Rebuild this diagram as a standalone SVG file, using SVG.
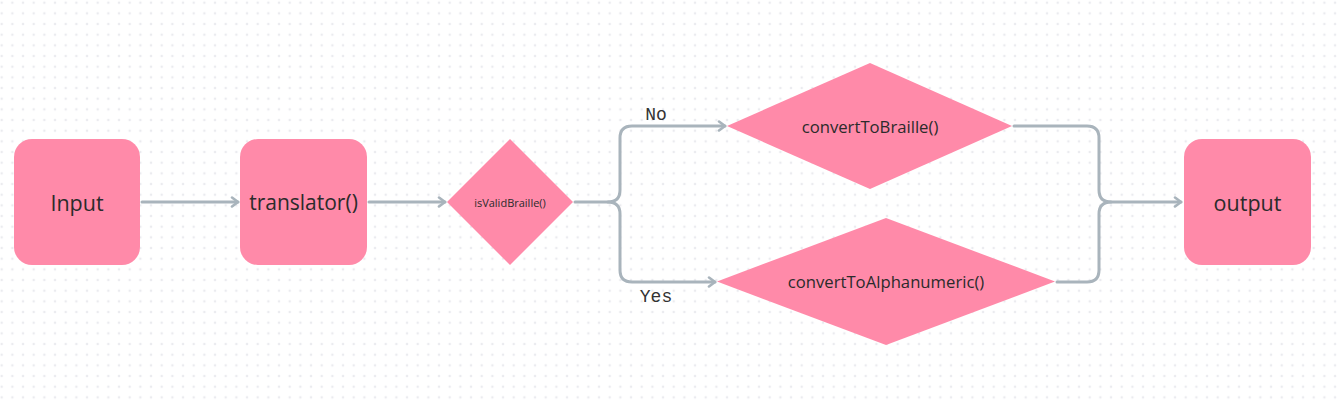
<svg xmlns="http://www.w3.org/2000/svg" width="1337" height="404" viewBox="0 0 1337 404">
<defs>
<pattern id="dots" x="1.7" y="2.7" width="10.667" height="10.667" patternUnits="userSpaceOnUse">
<path d="M0 -1.2V1.2M-1.2 0H1.2" stroke="#e2e3e8" stroke-width="0.9"/>
<path d="M10.667 -1.2V1.2M9.467 0H11.867M0 9.467V11.867M-1.2 10.667H1.2M10.667 9.467V11.867M9.467 10.667H11.867" stroke="#e2e3e8" stroke-width="0.9"/>
</pattern>
<marker id="arr" viewBox="0 0 12 12" refX="10" refY="6" markerWidth="12" markerHeight="12" markerUnits="userSpaceOnUse" orient="auto">
<path d="M4 1.5L10 6L4 10.5" fill="none" stroke="#a9b4bc" stroke-width="2.6" stroke-linecap="round" stroke-linejoin="round"/>
</marker>
</defs>
<style>
.node{fill:#ff8aa9}
.lbl{font-family:"Open Sans","Noto Sans",sans-serif;fill:#2b2b2b;text-anchor:middle;dominant-baseline:central}
.edge{fill:none;stroke:#a9b4bc;stroke-width:3;stroke-linecap:round;stroke-linejoin:round}
.elbl{font-family:"Liberation Mono","DejaVu Sans Mono",monospace;font-size:18px;fill:#333;text-anchor:middle}
</style>
<rect width="1337" height="404" fill="#ffffff"/>
<rect width="1337" height="404" fill="url(#dots)"/>
<g id="connectors">
<path class="edge" d="M142 202H238" marker-end="url(#arr)"/>
<path class="edge" d="M369 202H445" marker-end="url(#arr)"/>
<path class="edge" d="M575 202H608Q620 202 620 190V138Q620 126 632 126H725" marker-end="url(#arr)"/>
<path class="edge" d="M608 202Q620 202 620 214V270Q620 282 632 282H715" marker-end="url(#arr)"/>
<path class="edge" d="M1014 126H1087Q1099 126 1099 138V190Q1099 202 1111 202H1181" marker-end="url(#arr)"/>
<path class="edge" d="M1057 282H1087Q1099 282 1099 270V214Q1099 202 1111 202"/>
<text class="elbl" x="656" y="120">No</text>
<text class="elbl" x="656" y="302">Yes</text>
</g>
<g id="input">
<rect class="node" x="14" y="139" width="126" height="126" rx="18"/>
<text class="lbl" x="77" y="202" font-size="21.5">Input</text>
</g>
<g id="translator">
<rect class="node" x="240" y="139" width="127" height="126" rx="18"/>
<text class="lbl" x="303.5" y="202" font-size="21">translator()</text>
</g>
<g id="isValidBraille">
<polygon class="node" points="510,139 573,202 510,265 447,202"/>
<text class="lbl" x="510" y="202" font-size="11" fill="#3a3a3a">isValidBraille()</text>
</g>
<g id="convertToBraille">
<polygon class="node" points="870,63 1012,126 870,189 727,126"/>
<text class="lbl" x="870" y="126" font-size="16.7">convertToBraille()</text>
</g>
<g id="convertToAlphanumeric">
<polygon class="node" points="886,218 1055,281.5 886,345 717,281.5"/>
<text class="lbl" x="886" y="281.5" font-size="16.7">convertToAlphanumeric()</text>
</g>
<g id="output">
<rect class="node" x="1184" y="139" width="127" height="126" rx="18"/>
<text class="lbl" x="1247.5" y="202" font-size="21.5">output</text>
</g>
</svg>
